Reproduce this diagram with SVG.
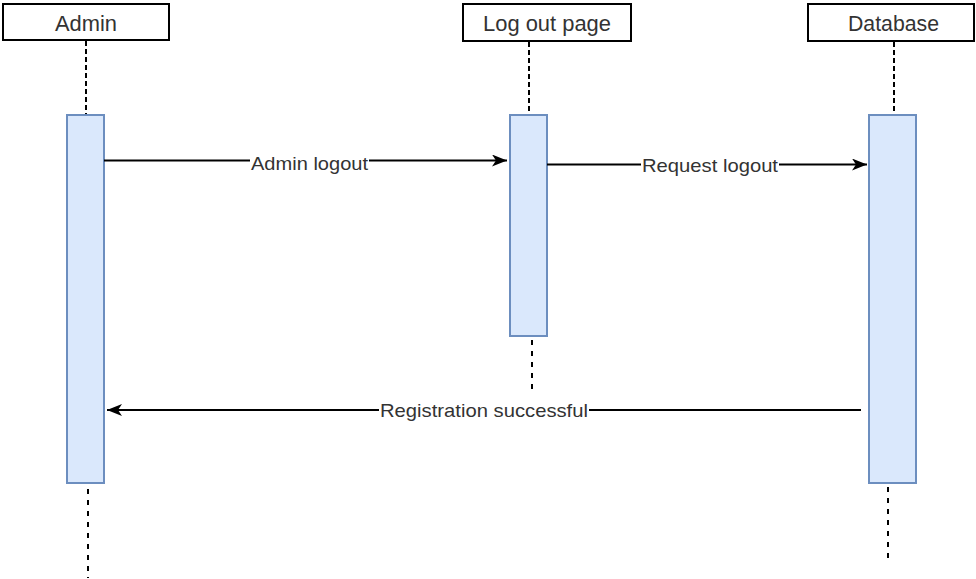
<svg xmlns="http://www.w3.org/2000/svg" width="976" height="579" viewBox="0 0 976 579">
<defs>
<style>
.hdr{fill:#ffffff;stroke:#000000;stroke-width:2}
.act{fill:#dae8fc;stroke:#6c8ebf;stroke-width:2}
.ht{font-family:"Liberation Sans",Arial,sans-serif;font-size:21.5px;fill:#333333;text-anchor:middle}
.lt{font-family:"Liberation Sans",Arial,sans-serif;font-size:19px;fill:#333333;text-anchor:middle}
.life{stroke:#000000;stroke-width:2;stroke-dasharray:5 3;fill:none}
.life2{stroke:#000000;stroke-width:2;stroke-dasharray:5 6;fill:none}
.msg{stroke:#000000;stroke-width:2;fill:none}
.bg{fill:#ffffff}
</style>
<marker id="ah" viewBox="0 0 15 12" refX="15" refY="6" markerWidth="15" markerHeight="12" markerUnits="userSpaceOnUse" orient="auto">
<path d="M0,0 L15,6 L0,12 L4,6 Z" fill="#000000"/>
</marker>
</defs>
<rect width="976" height="579" fill="#ffffff"/>
<g id="admin">
<rect class="hdr" x="3" y="4" width="166" height="36"/>
<text class="ht" x="86" y="30.5" textLength="62" lengthAdjust="spacingAndGlyphs">Admin</text>
<line class="life" x1="86" y1="41" x2="86" y2="115"/>
<rect class="act" x="67" y="115" width="37" height="368"/>
<line class="life2" x1="88" y1="489" x2="88" y2="578"/>
</g>
<g id="logoutpage">
<rect class="hdr" x="463" y="4" width="168" height="37"/>
<text class="ht" x="547" y="30.5" textLength="128" lengthAdjust="spacingAndGlyphs">Log out page</text>
<line class="life" x1="529" y1="42" x2="529" y2="115"/>
<rect class="act" x="510" y="115" width="37" height="221"/>
<line class="life2" x1="532" y1="340" x2="532" y2="394"/>
</g>
<g id="database">
<rect class="hdr" x="808" y="4" width="166" height="37"/>
<text class="ht" x="893.5" y="30.5" textLength="91" lengthAdjust="spacingAndGlyphs">Database</text>
<line class="life" x1="894" y1="42" x2="894" y2="115"/>
<rect class="act" x="869" y="115" width="47" height="368"/>
<line class="life2" x1="888" y1="487" x2="888" y2="561"/>
</g>
<g id="connectors">
<line class="msg" x1="104" y1="160.5" x2="507" y2="160.5" marker-end="url(#ah)"/>
<rect class="bg" x="250" y="151" width="119" height="20"/>
<text class="lt" x="309.5" y="170" textLength="117" lengthAdjust="spacingAndGlyphs">Admin logout</text>
<line class="msg" x1="547" y1="164.5" x2="867" y2="164.5" marker-end="url(#ah)"/>
<rect class="bg" x="641" y="155" width="138" height="20"/>
<text class="lt" x="710" y="172" textLength="136" lengthAdjust="spacingAndGlyphs">Request logout</text>
<line class="msg" x1="861" y1="410" x2="107" y2="410" marker-end="url(#ah)"/>
<rect class="bg" x="379" y="400" width="210" height="20"/>
<text class="lt" x="484" y="417" textLength="208" lengthAdjust="spacingAndGlyphs">Registration successful</text>
</g>
</svg>
